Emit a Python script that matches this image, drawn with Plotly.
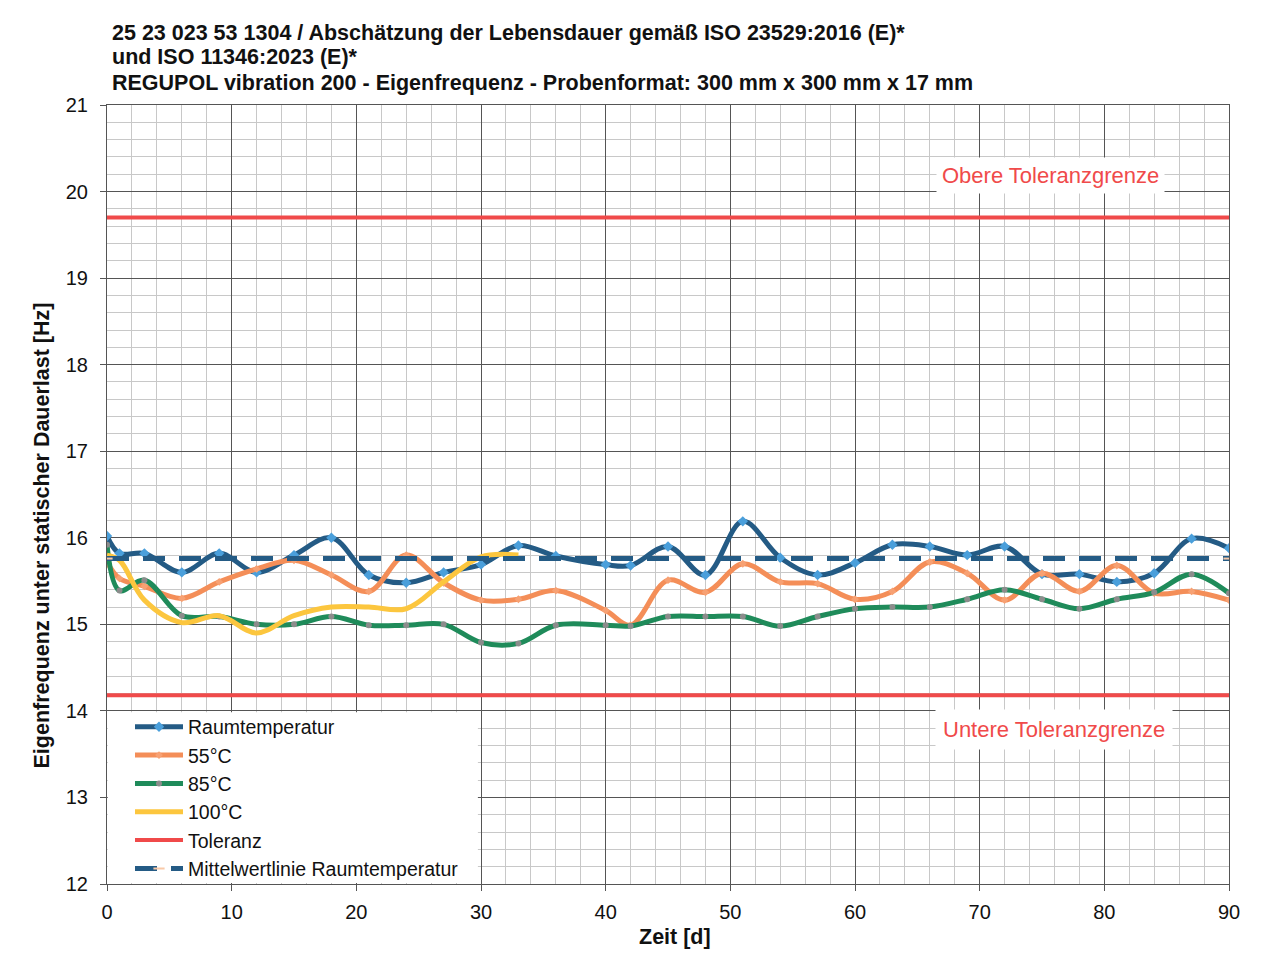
import plotly.graph_objects as go

days = [0, 1, 3, 6, 9, 12, 15, 18, 21, 24, 27, 30, 33, 36, 40, 42, 45, 48, 51, 54,
        57, 60, 63, 66, 69, 72, 75, 78, 81, 84, 87, 90]
raumtemp = [16.02, 15.82, 15.82, 15.60, 15.82, 15.60, 15.80, 16.00, 15.57, 15.48, 15.60,
            15.69, 15.91, 15.79, 15.69, 15.68, 15.90, 15.57, 16.19, 15.77, 15.57, 15.71,
            15.92, 15.90, 15.80, 15.90, 15.58, 15.58, 15.49, 15.59, 15.99, 15.88]
t55 = [15.72, 15.53, 15.44, 15.30, 15.49, 15.64, 15.74, 15.57, 15.38, 15.80, 15.48,
       15.28, 15.29, 15.39, 15.16, 14.99, 15.51, 15.37, 15.70, 15.49, 15.47, 15.29,
       15.38, 15.72, 15.59, 15.28, 15.59, 15.38, 15.68, 15.36, 15.38, 15.28]
t85 = [15.92, 15.39, 15.51, 15.10, 15.09, 15.00, 15.00, 15.09, 14.99, 14.99, 15.00,
       14.79, 14.78, 14.99, 14.99, 14.98, 15.09, 15.09, 15.09, 14.98, 15.09, 15.18,
       15.20, 15.20, 15.29, 15.40, 15.29, 15.18, 15.29, 15.37, 15.58, 15.36]
days100 = [0, 1, 3, 6, 9, 12, 15, 18, 21, 24, 27, 30, 33]
t100 = [15.80, 15.74, 15.28, 15.02, 15.10, 14.90, 15.10, 15.20, 15.20, 15.18, 15.49,
        15.78, 15.80]
mean_raum = 15.76
tol_upper = 19.70
tol_lower = 14.18
x_range = [0, 90]
y_range = [12, 21]

title_lines = [
    "25 23 023 53 1304 / Abschätzung der Lebensdauer gemäß ISO 23529:2016 (E)*",
    "und ISO 11346:2023 (E)*",
    "REGUPOL vibration 200 - Eigenfrequenz - Probenformat: 300 mm x 300 mm x 17 mm",
]

FONT = "Liberation Sans, Arial, sans-serif"
BLUE = "#245B85"
ORANGE = "#F48E58"
GREEN = "#1F8B5A"
YELLOW = "#FCC63E"
RED = "#F04A4A"

fig = go.Figure()
fig.add_trace(go.Scatter(x=days, y=raumtemp, name="Raumtemperatur", mode="lines+markers",
                         line=dict(color=BLUE, width=5, shape="spline", smoothing=1),
                         marker=dict(symbol="diamond", color="#4A9FDB", size=8)))
fig.add_trace(go.Scatter(x=days, y=t55, name="55°C", mode="lines+markers",
                         line=dict(color=ORANGE, width=5, shape="spline", smoothing=1),
                         marker=dict(symbol="diamond", color="#F7A173", size=6)))
fig.add_trace(go.Scatter(x=days, y=t85, name="85°C", mode="lines+markers",
                         line=dict(color=GREEN, width=5, shape="spline", smoothing=1),
                         marker=dict(symbol="circle", color="#8C8C8C", size=6)))
fig.add_trace(go.Scatter(x=days100, y=t100, name="100°C", mode="lines",
                         line=dict(color=YELLOW, width=5, shape="spline", smoothing=1)))
fig.add_trace(go.Scatter(x=x_range, y=[tol_upper, tol_upper], name="Toleranz", mode="lines",
                         line=dict(color=RED, width=4), legendgroup="tol"))
fig.add_trace(go.Scatter(x=x_range, y=[tol_lower, tol_lower], name="Toleranz", mode="lines",
                         line=dict(color=RED, width=4), legendgroup="tol", showlegend=False))
fig.add_trace(go.Scatter(x=x_range, y=[mean_raum, mean_raum], name="Mittelwertlinie Raumtemperatur",
                         mode="lines+markers",
                         line=dict(color=BLUE, width=5, dash="22px,14px"),
                         marker=dict(symbol="line-ew", size=8,
                                     line=dict(color="#F9C9A8", width=2))))

annotations = []
for i, (txt, yc) in enumerate(zip(title_lines, [33, 57, 83])):
    annotations.append(dict(text="<b>" + txt + "</b>", xref="paper", yref="paper", x=0, y=1,
                            xanchor="left", yanchor="middle", xshift=3, yshift=105 - yc,
                            showarrow=False, font=dict(family=FONT, size=21.5, color="#111")))
annotations.append(dict(text="<b>Eigenfrequenz unter statischer Dauerlast [Hz]</b>",
                        xref="paper", yref="paper", x=0, y=0.5, xanchor="center",
                        yanchor="middle", xshift=-66, yshift=-41, textangle=-90,
                        showarrow=False, font=dict(family=FONT, size=21.5, color="#111")))
annotations.append(dict(text="<b>Zeit [d]</b>", xref="paper", yref="paper", x=0.5, y=0,
                        xanchor="center", yanchor="middle", xshift=7, yshift=-53,
                        showarrow=False, font=dict(family=FONT, size=21.5, color="#111")))
annotations.append(dict(text="Obere Toleranzgrenze", x=75.7, y=20.19, showarrow=False,
                        bgcolor="white", borderpad=5,
                        font=dict(family=FONT, size=22, color=RED)))
annotations.append(dict(text="Untere Toleranzgrenze", x=76.0, y=13.79, showarrow=False,
                        bgcolor="white", borderpad=7,
                        font=dict(family=FONT, size=22, color=RED)))

# white legend area covering the grid (as in the reference)
shapes = [dict(type="rect", xref="x", yref="y", x0=0.06, x1=29.75, y0=12.012, y1=13.985,
               fillcolor="white", line=dict(width=0), layer="above")]

fig.update_layout(
    width=1246, height=943,
    margin=dict(l=99, r=25, t=97, b=67),
    paper_bgcolor="white", plot_bgcolor="white",
    font=dict(family=FONT, size=20, color="#111"),
    showlegend=True,
    legend=dict(x=0.0205, y=-0.0058, xanchor="left", yanchor="bottom",
                bgcolor="rgba(0,0,0,0)", borderwidth=0,
                font=dict(family=FONT, size=19.5, color="#111"),
                traceorder="normal", itemwidth=48),
    annotations=annotations,
    shapes=shapes,
)
fig.update_xaxes(range=x_range, dtick=10, tick0=0, showgrid=True, gridcolor="#555",
                 gridwidth=1, showline=True, linecolor="#555", mirror=True,
                 ticks="outside", ticklen=6, tickcolor="#555", zeroline=False,
                 minor=dict(dtick=2, showgrid=True, gridcolor="#C8C8C8", gridwidth=1),
                 tickfont=dict(family=FONT, size=20), ticklabelstandoff=4)
fig.update_yaxes(range=y_range, dtick=1, tick0=12, showgrid=True, gridcolor="#555",
                 gridwidth=1, showline=True, linecolor="#555", mirror=True,
                 ticks="outside", ticklen=6, tickcolor="#555", zeroline=False,
                 minor=dict(dtick=0.2, showgrid=True, gridcolor="#C8C8C8", gridwidth=1),
                 tickfont=dict(family=FONT, size=20), ticklabelstandoff=8)

fig.write_html("out.html")
